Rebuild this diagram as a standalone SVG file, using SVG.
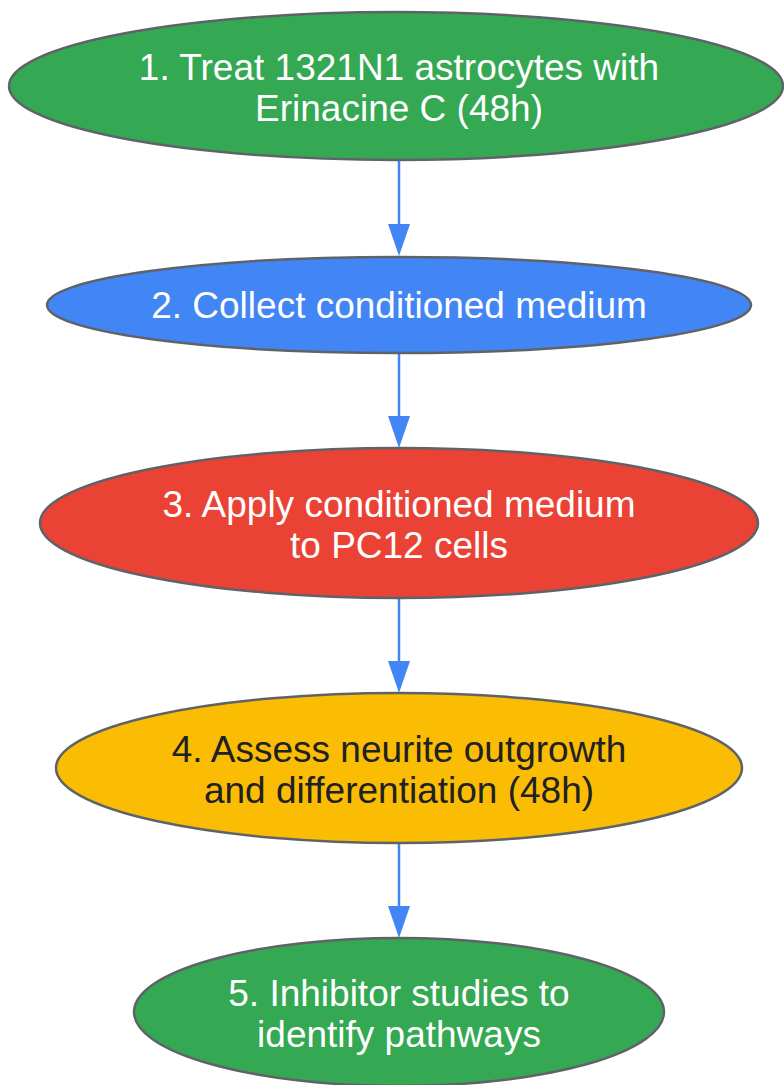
<svg xmlns="http://www.w3.org/2000/svg" width="784" height="1085" viewBox="0 0 784 1085">
<style>
.node ellipse{stroke:#5f6368;stroke-width:2.5}
.t{font-family:"Liberation Sans",Arial,sans-serif;font-size:37px;text-anchor:middle}
.w{fill:#ffffff}
.d{fill:#202124}
.edge{stroke:#4285f4;stroke-width:2.5;fill:none}
.head{fill:#4285f4}
</style>
<rect width="784" height="1085" fill="#ffffff"/>
<g id="connectors">
<line class="edge" x1="399" y1="160" x2="399" y2="226"/>
<path class="head" d="M388,224 L410,224 L399,256 z"/>
<line class="edge" x1="399" y1="353" x2="399" y2="418"/>
<path class="head" d="M388,416 L410,416 L399,448 z"/>
<line class="edge" x1="399" y1="598" x2="399" y2="663"/>
<path class="head" d="M388,661 L410,661 L399,693 z"/>
<line class="edge" x1="399" y1="843" x2="399" y2="908"/>
<path class="head" d="M388,906 L410,906 L399,938 z"/>
</g>
<g id="node1" class="node">
<ellipse cx="396" cy="86" rx="387" ry="74" fill="#34a853"/>
<text class="t w" x="399" y="80">1. Treat 1321N1 astrocytes with</text>
<text class="t w" x="399" y="121">Erinacine C (48h)</text>
</g>
<g id="node2" class="node">
<ellipse cx="399" cy="305" rx="352" ry="48" fill="#4285f4"/>
<text class="t w" x="399" y="318">2. Collect conditioned medium</text>
</g>
<g id="node3" class="node">
<ellipse cx="399" cy="523" rx="359" ry="75" fill="#ea4335"/>
<text class="t w" x="399" y="517">3. Apply conditioned medium</text>
<text class="t w" x="399" y="558">to PC12 cells</text>
</g>
<g id="node4" class="node">
<ellipse cx="399" cy="768" rx="343" ry="75" fill="#fbbc04"/>
<text class="t d" x="399" y="762">4. Assess neurite outgrowth</text>
<text class="t d" x="399" y="803">and differentiation (48h)</text>
</g>
<g id="node5" class="node">
<ellipse cx="399" cy="1012" rx="265" ry="74" fill="#34a853"/>
<text class="t w" x="399" y="1006">5. Inhibitor studies to</text>
<text class="t w" x="399" y="1047">identify pathways</text>
</g>
</svg>
